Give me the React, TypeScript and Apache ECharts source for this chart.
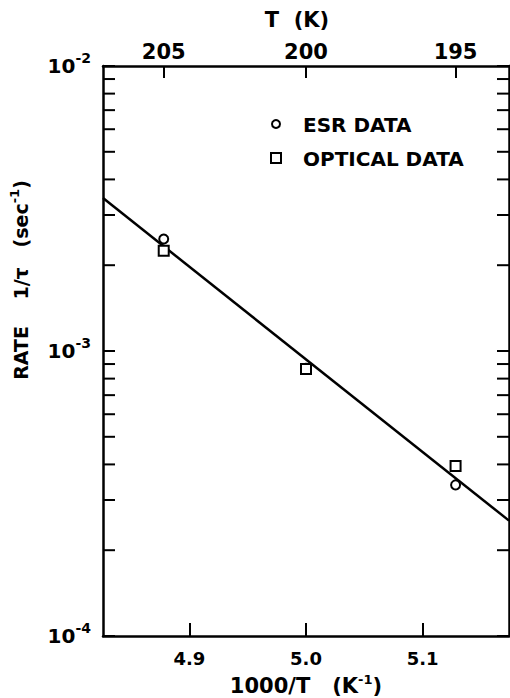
import React, { useEffect, useRef } from "react";
import * as echarts from "echarts";

// ---- data ----
const xMin = 4.826;
const xMax = 5.174;
const yMin = 1e-4;
const yMax = 1e-2;

const esrTemps = [205, 200, 195];
const esrRates = [2.47e-3, 8.7e-4, 3.39e-4];

const opticalTemps = [205, 200, 195];
const opticalRates = [2.25e-3, 8.65e-4, 3.95e-4];

const fitX = [4.826, 5.174];
const fitY = [3.44e-3, 2.54e-4];

const topTemps = [205, 200, 195];
const bottomTicks = [4.9, 5.0, 5.1];
const minorTicks = [
  2e-4, 3e-4, 4e-4, 5e-4, 6e-4, 7e-4, 8e-4, 9e-4,
  2e-3, 3e-3, 4e-3, 5e-3, 6e-3, 7e-3, 8e-3, 9e-3,
];

const FONT = "DejaVu Sans";

export default function App() {
  const ref = useRef<HTMLDivElement>(null);

  useEffect(() => {
    if (!ref.current) return;
    const chart = echarts.init(ref.current, null, { renderer: "svg" });
    const lineStyle = { color: "#000", width: 2.5 };
    const tickStyle = { color: "#000", width: 2 };
    const topTickX = topTemps.map((t) => 1000 / t);

    const option: any = {
      animation: false,
      backgroundColor: "#fff",
      grid: { left: 103, right: 1, top: 66, bottom: 62, containLabel: false },
      xAxis: [
        {
          type: "value",
          position: "bottom",
          min: xMin,
          max: xMax,
          axisLine: { show: true, lineStyle },
          axisTick: { show: true, inside: true, length: 13, lineStyle: tickStyle, customValues: bottomTicks },
          axisLabel: {
            customValues: bottomTicks,
            formatter: (v: number) => v.toFixed(1),
            margin: 13,
            color: "#000",
            fontFamily: FONT,
            fontWeight: "bold",
            fontSize: 18,
          },
          splitLine: { show: false },
        },
        {
          type: "value",
          position: "top",
          min: xMin,
          max: xMax,
          axisLine: { show: true, lineStyle },
          axisTick: { show: true, inside: true, length: 12, lineStyle: tickStyle, customValues: topTickX },
          axisLabel: {
            customValues: topTickX,
            formatter: (v: number) => String(Math.round(1000 / v)),
            margin: 4,
            color: "#000",
            fontFamily: FONT,
            fontWeight: "bold",
            fontSize: 21,
          },
          splitLine: { show: false },
        },
      ],
      yAxis: [
        {
          type: "log",
          logBase: 10,
          position: "left",
          min: yMin,
          max: yMax,
          axisLine: { show: true, lineStyle },
          axisTick: { show: true, inside: true, length: 12, lineStyle: tickStyle },
          axisLabel: {
            margin: 12,
            color: "#000",
            formatter: (v: number) => `{b|10}{s|${Math.round(Math.log10(v))}}`,
            rich: {
              b: { fontFamily: FONT, fontWeight: "bold", fontSize: 20, lineHeight: 30, color: "#000" },
              s: { fontFamily: FONT, fontWeight: "bold", fontSize: 14, lineHeight: 14, verticalAlign: "top", color: "#000" },
            },
          },
          splitLine: { show: false },
          minorTick: { show: false },
        },
        {
          type: "log",
          logBase: 10,
          position: "right",
          min: yMin,
          max: yMax,
          axisLine: { show: true, lineStyle },
          axisTick: { show: true, inside: true, length: 12, lineStyle: tickStyle },
          axisLabel: { show: false },
          splitLine: { show: false },
        },
      ],
      graphic: [
        {
          type: "text",
          x: 297,
          y: 20,
          style: {
            text: "T  (K)",
            fontFamily: FONT,
            fontWeight: "bold",
            fontSize: 21,
            fill: "#000",
            align: "center",
            verticalAlign: "middle",
          },
        },
        {
          type: "text",
          x: 306,
          y: 686,
          style: {
            text: "{a|1000/T   (K}{s|-1}{a|)}",
            rich: {
              a: { fontFamily: FONT, fontWeight: "bold", fontSize: 21, lineHeight: 26, fill: "#000" },
              s: { fontFamily: FONT, fontWeight: "bold", fontSize: 13, lineHeight: 13, verticalAlign: "top", fill: "#000" },
            },
            align: "center",
            verticalAlign: "middle",
          },
        },
        {
          type: "text",
          x: 21,
          y: 280,
          rotation: Math.PI / 2,
          style: {
            text: "{a|RATE    1/τ   (sec}{s|-1}{a|)}",
            rich: {
              a: { fontFamily: FONT, fontWeight: "bold", fontSize: 19, lineHeight: 26, fill: "#000" },
              s: { fontFamily: FONT, fontWeight: "bold", fontSize: 13, lineHeight: 13, verticalAlign: "top", fill: "#000" },
            },
            align: "center",
            verticalAlign: "middle",
          },
        },
        {
          type: "circle",
          shape: { cx: 276, cy: 124, r: 4 },
          style: { fill: "#fff", stroke: "#000", lineWidth: 2 },
        },
        {
          type: "rect",
          shape: { x: 271, y: 153, width: 10, height: 10 },
          style: { fill: "#fff", stroke: "#000", lineWidth: 2 },
        },
        {
          type: "text",
          x: 303,
          y: 125,
          style: {
            text: "ESR DATA",
            fontFamily: FONT,
            fontWeight: "bold",
            fontSize: 20,
            fill: "#000",
            verticalAlign: "middle",
          },
        },
        {
          type: "text",
          x: 303,
          y: 159,
          style: {
            text: "OPTICAL DATA",
            fontFamily: FONT,
            fontWeight: "bold",
            fontSize: 20,
            fill: "#000",
            verticalAlign: "middle",
          },
        },
      ],
      series: [
        {
          name: "fit",
          type: "line",
          xAxisIndex: 0,
          yAxisIndex: 0,
          data: fitX.map((x, i) => [x, fitY[i]]),
          showSymbol: false,
          symbol: "none",
          lineStyle: { color: "#000", width: 2.5 },
          z: 2,
        },
        {
          name: "minorTicks",
          type: "custom",
          xAxisIndex: 0,
          yAxisIndex: 0,
          data: minorTicks.map((v) => [xMin, v]),
          renderItem: (params: any, api: any) => {
            const v = api.value(1);
            const p = api.coord([xMin, v]);
            const cs = params.coordSys;
            const y = p[1];
            const st = { stroke: "#000", lineWidth: 2 };
            return {
              type: "group",
              children: [
                { type: "line", shape: { x1: cs.x, y1: y, x2: cs.x + 12, y2: y }, style: st },
                { type: "line", shape: { x1: cs.x + cs.width - 12, y1: y, x2: cs.x + cs.width, y2: y }, style: st },
              ],
            };
          },
          z: 3,
        },
        {
          name: "ESR DATA",
          type: "scatter",
          xAxisIndex: 0,
          yAxisIndex: 0,
          data: esrTemps.map((t, i) => [1000 / t, esrRates[i]]),
          symbol: "circle",
          symbolSize: 9,
          itemStyle: { color: "#fff", borderColor: "#000", borderWidth: 2, opacity: 1 },
          z: 4,
        },
        {
          name: "OPTICAL DATA",
          type: "scatter",
          xAxisIndex: 0,
          yAxisIndex: 0,
          data: opticalTemps.map((t, i) => [1000 / t, opticalRates[i]]),
          symbol: "rect",
          symbolSize: 10,
          itemStyle: { color: "#fff", borderColor: "#000", borderWidth: 2, opacity: 1 },
          z: 5,
        },
      ],
    };
    chart.setOption(option);
    return () => chart.dispose();
  }, []);

  return (
    <div
      ref={ref}
      style={{ position: "fixed", left: 0, top: 0, width: 510, height: 698, background: "#fff" }}
    />
  );
}
